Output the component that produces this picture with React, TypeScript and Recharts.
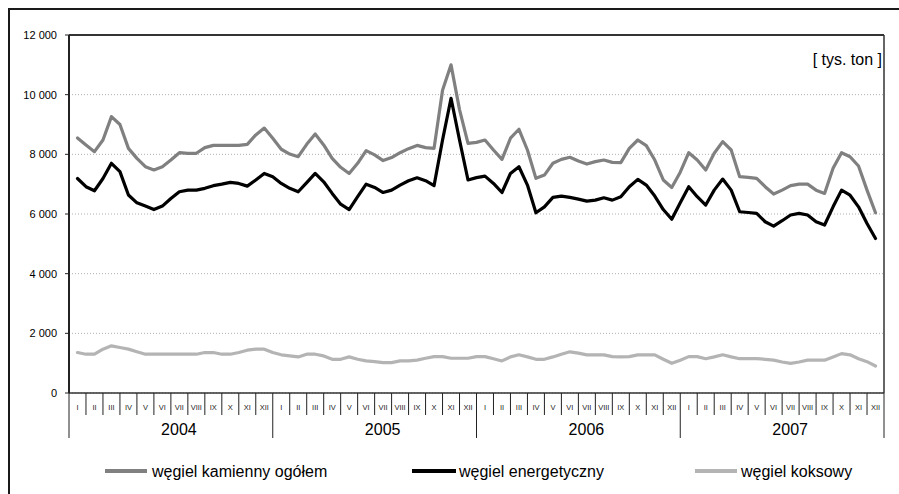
import React from 'react';
import { LineChart, Line, XAxis, YAxis, CartesianGrid, ReferenceLine, Legend } from 'recharts';

const years = ['2004', '2005', '2006', '2007'];
const months = ['I', 'II', 'III', 'IV', 'V', 'VI', 'VII', 'VIII', 'IX', 'X', 'XI', 'XII'];
const yTicks = [0, 2000, 4000, 6000, 8000, 10000, 12000];

// half-month readings, from mid-January 2004 to mid-December 2007
const kamienny = [
  8550, 8310, 8090, 8480, 9265, 9000, 8200, 7865, 7585, 7475, 7585, 7810, 8055, 8035, 8035, 8225, 8300, 8300, 8300, 8300, 8335, 8650, 8880, 8540,
  8170, 8010, 7920, 8335, 8680, 8315, 7865, 7565, 7360, 7700, 8125, 7980, 7790, 7890, 8055, 8190, 8300, 8225, 8200, 10150, 11000, 9500, 8370, 8400,
  8480, 8145, 7830, 8540, 8840, 8145, 7195, 7305, 7700, 7830, 7900, 7775, 7675, 7755, 7810, 7730, 7720, 8200, 8480, 8290, 7810, 7140, 6890, 7400,
  8055, 7810, 7475, 8035, 8425, 8145, 7250, 7230, 7195, 6915, 6670, 6800, 6950, 7000, 7000, 6800, 6690, 7530, 8055, 7920, 7610, 6800, 6040,
];
const energetyczny = [
  7190, 6915, 6780, 7190, 7700, 7420, 6635, 6375, 6265, 6150, 6265, 6520, 6745, 6800, 6800, 6860, 6950, 7000, 7060, 7025, 6935, 7140, 7360, 7250,
  7025, 6860, 6745, 7050, 7360, 7080, 6690, 6330, 6150, 6580, 7000, 6890, 6720, 6800, 6970, 7115, 7215, 7115, 6950, 8480, 9880, 8480, 7140, 7220,
  7270, 7025, 6720, 7360, 7585, 6970, 6040, 6240, 6555, 6600, 6555, 6500, 6430, 6465, 6545, 6465, 6575, 6915, 7160, 6970, 6600, 6150, 5825, 6380,
  6915, 6580, 6300, 6800, 7170, 6800, 6075, 6050, 6020, 5740, 5595, 5775, 5965, 6020, 5965, 5740, 5630, 6240, 6800, 6630, 6240, 5680, 5180,
];
const koksowy = [
  1356, 1300, 1300, 1470, 1580, 1525, 1470, 1380, 1300, 1300, 1300, 1300, 1300, 1300, 1300, 1356, 1356, 1300, 1300, 1356, 1435, 1470, 1470, 1356,
  1280, 1243, 1210, 1300, 1300, 1243, 1130, 1130, 1210, 1130, 1075, 1050, 1017, 1017, 1075, 1075, 1100, 1165, 1220, 1220, 1165, 1165, 1165, 1220,
  1220, 1150, 1075, 1210, 1280, 1210, 1130, 1130, 1210, 1300, 1380, 1335, 1280, 1280, 1280, 1220, 1210, 1220, 1280, 1280, 1280, 1130, 995, 1100,
  1220, 1220, 1150, 1210, 1280, 1210, 1150, 1150, 1150, 1130, 1100, 1040, 995, 1040, 1100, 1100, 1100, 1210, 1320, 1280, 1150, 1050, 904,
];

const seriesInfo = [
  { key: 'kamienny', name: 'węgiel kamienny ogółem', color: '#808080' },
  { key: 'energetyczny', name: 'węgiel energetyczny', color: '#000000' },
  { key: 'koksowy', name: 'węgiel koksowy', color: '#b4b4b4' },
];

const data = kamienny.map((v, i) => ({
  t: 0.5 + i * 0.5,
  kamienny: v,
  energetyczny: energetyczny[i],
  koksowy: koksowy[i],
}));

const nMonths = years.length * months.length;
const xTicks = Array.from({ length: nMonths * 2 + 1 }, (_, i) => i / 2);

const FONT = '"Liberation Sans", Arial, Helvetica, sans-serif';

const fmt = (v: number) => String(v).replace(/\B(?=(\d{3})+(?!\d))/g, ' ');

function XTick(props: any) {
  const { x, y, payload } = props;
  const v: number = payload.value;
  if (Number.isInteger(v)) {
    const isYear = v % 12 === 0;
    return (
      <g>
        <line x1={x} x2={x} y1={y} y2={y + (isYear ? 45 : 22)} stroke="#222" strokeWidth={1} />
        {v % 12 === 6 ? (
          <text x={x + 8} y={y + 41.5} textAnchor="middle" fontSize={16} fontFamily={FONT} fill="#000">
            {years[(v - 6) / 12]}
          </text>
        ) : null}
      </g>
    );
  }
  const m = Math.floor(v) % 12;
  return (
    <text x={x} y={y + 16.5} textAnchor="middle" fontSize={7.5} fontFamily={FONT} fill="#222" style={{ WebkitFontSmoothing: 'antialiased' } as any}>
      {months[m]}
    </text>
  );
}

const legendPos = [
  { x1: 105, x2: 147, tx: 152 },
  { x1: 412, x2: 456, tx: 459 },
  { x1: 695, x2: 737, tx: 741 },
];

function LegendContent() {
  return (
    <svg width={899} height={30} style={{ display: 'block' }}>
      {seriesInfo.map((s, i) => (
        <g key={s.key}>
          <line x1={legendPos[i].x1} x2={legendPos[i].x2} y1={15} y2={15} stroke={s.color} strokeWidth={4} />
          <text x={legendPos[i].tx} y={20.8} fontSize={16} fontFamily={FONT} fill="#000">
            {s.name}
          </text>
        </g>
      ))}
    </svg>
  );
}

export default function App() {
  return (
    <div style={{ position: 'absolute', left: 0, top: 0, width: 899, height: 494, overflow: 'hidden', background: '#fff' }}>
      <div
        style={{
          position: 'absolute',
          left: 8,
          top: 8,
          width: 900,
          height: 500,
          borderTop: '2px solid #1a1a1a',
          borderLeft: '2px solid #1a1a1a',
          boxSizing: 'border-box',
        }}
      />
      <div style={{ position: 'absolute', left: 0, top: 0 }}>
        <LineChart width={899} height={494} data={data} margin={{ top: 35, right: 15, bottom: 56, left: 0 }}>
          <CartesianGrid horizontal vertical={false} stroke="#b0b0b0" strokeDasharray="1 2" />
          <XAxis
            dataKey="t"
            type="number"
            domain={[0, nMonths]}
            ticks={xTicks}
            interval={0}
            height={45}
            tickSize={0}
            tickMargin={0}
            tickLine={false}
            axisLine={{ stroke: '#333', strokeWidth: 1.5 }}
            tick={(p: any) => <XTick {...p} />}
          />
          <YAxis
            type="number"
            domain={[0, 12000]}
            ticks={yTicks}
            width={69}
            tickSize={4}
            tickMargin={8}
            tickFormatter={fmt}
            axisLine={{ stroke: '#222', strokeWidth: 2 }}
            tickLine={{ stroke: '#222' }}
            tick={{ fontSize: 11, fontFamily: FONT, fill: '#000' }}
          />
          <ReferenceLine
            y={12000}
            stroke="#333"
            strokeWidth={2}
            label={{
              content: (p: any) => {
                const vb = p.viewBox || {};
                return (
                  <text x={vb.x + vb.width - 2} y={vb.y + 29.5} textAnchor="end" fontSize={16} fontFamily={FONT} fill="#000">
                    [ tys. ton ]
                  </text>
                );
              },
            }}
          />
          <ReferenceLine x={nMonths} stroke="#333" strokeWidth={1.5} />
          {seriesInfo.map((s) => (
            <Line
              key={s.key}
              type="linear"
              dataKey={s.key}
              name={s.name}
              stroke={s.color}
              strokeWidth={3.2}
              strokeLinejoin="round"
              strokeLinecap="round"
              dot={false}
              activeDot={false}
              isAnimationActive={false}
            />
          ))}
          <Legend
            layout="horizontal"
            verticalAlign="middle"
            align="center"
            wrapperStyle={{ position: 'absolute', left: 0, top: 456, width: 899, height: 30 }}
            content={() => <LegendContent />}
          />
        </LineChart>
      </div>
    </div>
  );
}
